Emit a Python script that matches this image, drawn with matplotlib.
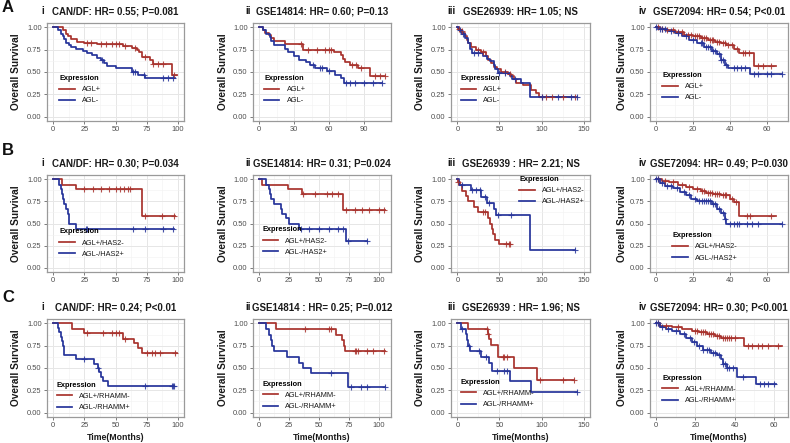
import numpy as np
import matplotlib
matplotlib.use("Agg")
import matplotlib.pyplot as plt
from matplotlib.lines import Line2D

plt.rcParams.update({
    "font.family": ["Liberation Sans", "DejaVu Sans"],
    "font.size": 7,
})

RED = "#A8322D"
BLUE = "#26349A"

# ---- row A: AGL+ / AGL- ----
a1_pos_t = [0, 8, 10, 12, 14, 19, 25, 35, 56, 63, 67, 69, 71, 78, 80, 95, 99]
a1_pos_s = [1.0, 0.97, 0.93, 0.90, 0.87, 0.84, 0.83, 0.81, 0.79, 0.77, 0.75, 0.72, 0.67, 0.64, 0.59, 0.47, 0.47]
a1_pos_c = [27, 30, 38, 42, 47, 50, 53, 58, 66, 74, 80, 84, 88, 97]
a1_neg_t = [0, 4, 6, 8, 9, 10, 13, 14, 18, 24, 27, 31, 35, 38, 41, 43, 50, 63, 68, 74, 98]
a1_neg_s = [1.0, 0.97, 0.93, 0.90, 0.87, 0.83, 0.80, 0.78, 0.76, 0.74, 0.71, 0.69, 0.66, 0.63, 0.60, 0.57, 0.54, 0.50, 0.47, 0.43, 0.43]
a1_neg_c = [39, 64, 66, 73, 88, 92, 96]

a2_pos_t = [0, 3, 5, 8, 10, 13, 22, 38, 64, 70, 72, 74, 78, 85, 95, 108]
a2_pos_s = [1.0, 0.97, 0.94, 0.91, 0.88, 0.85, 0.81, 0.75, 0.72, 0.69, 0.65, 0.61, 0.58, 0.55, 0.46, 0.46]
a2_pos_c = [36, 42, 50, 57, 60, 62, 80, 83, 88, 100, 104, 108]
a2_neg_t = [0, 3, 6, 9, 10, 13, 22, 25, 30, 34, 40, 44, 48, 58, 65, 70, 73, 106]
a2_neg_s = [1.0, 0.97, 0.93, 0.89, 0.85, 0.80, 0.76, 0.72, 0.68, 0.64, 0.61, 0.58, 0.54, 0.51, 0.47, 0.43, 0.38, 0.38]
a2_neg_c = [46, 52, 54, 60, 75, 78, 82, 90, 98, 106]

a3_pos_t = [0, 1, 3, 6, 9, 11, 13, 16, 22, 28, 34, 37, 40, 44, 47, 52, 60, 64, 67, 70, 78, 88, 93, 97, 140]
a3_pos_s = [1.0, 0.98, 0.96, 0.94, 0.90, 0.86, 0.82, 0.78, 0.75, 0.72, 0.68, 0.64, 0.60, 0.56, 0.53, 0.50, 0.48, 0.45, 0.42, 0.38, 0.35, 0.30, 0.26, 0.22, 0.22]
a3_pos_c = [2, 5, 25, 30, 57, 62, 100, 105, 112, 125, 140]
a3_neg_t = [0, 2, 5, 9, 13, 15, 17, 31, 35, 39, 43, 45, 48, 62, 65, 75, 86, 142]
a3_neg_s = [1.0, 0.97, 0.93, 0.88, 0.82, 0.76, 0.71, 0.68, 0.65, 0.62, 0.58, 0.53, 0.49, 0.46, 0.42, 0.38, 0.22, 0.22]
a3_neg_c = [3, 7, 20, 24, 50, 57, 68, 100, 120, 135, 142]

a4_pos_t = [0, 2, 5, 10, 15, 20, 24, 28, 32, 35, 38, 42, 45, 53, 65]
a4_pos_s = [1.0, 0.98, 0.97, 0.95, 0.92, 0.90, 0.88, 0.86, 0.84, 0.82, 0.80, 0.76, 0.71, 0.57, 0.57]
a4_pos_c = [1, 3, 6, 9, 12, 14, 17, 19, 21, 22, 23, 25, 26, 27, 29, 30, 31, 33, 34, 36, 37, 39, 41, 44, 47, 48, 50, 55, 58, 62]
a4_neg_t = [0, 1, 6, 10, 14, 18, 22, 26, 30, 33, 35, 37, 39, 51, 68]
a4_neg_s = [1.0, 0.98, 0.96, 0.94, 0.90, 0.86, 0.82, 0.78, 0.74, 0.70, 0.64, 0.58, 0.55, 0.48, 0.48]
a4_neg_c = [0, 2, 3, 5, 8, 12, 16, 20, 24, 25, 27, 28, 29, 31, 32, 34, 35, 36, 38, 42, 44, 46, 48, 53, 55, 60, 62, 68]

# ---- row B: AGL+/HAS2- vs AGL-/HAS2+ ----
b1_pos_t = [0, 7, 18, 71, 98]
b1_pos_s = [1.0, 0.94, 0.89, 0.59, 0.59]
b1_pos_c = [25, 32, 38, 45, 50, 54, 57, 60, 62, 74, 87, 97]
b1_neg_t = [0, 5, 6, 7, 8, 9, 10, 12, 13, 18, 97]
b1_neg_s = [1.0, 0.94, 0.89, 0.83, 0.78, 0.72, 0.67, 0.61, 0.50, 0.44, 0.44]
b1_neg_c = [26, 27, 64, 74, 88, 96]

b2_pos_t = [0, 2, 24, 36, 70, 105]
b2_pos_s = [1.0, 0.94, 0.89, 0.83, 0.65, 0.65]
b2_pos_c = [37, 47, 57, 61, 66, 73, 80, 86, 92, 100, 104]
b2_neg_t = [0, 6, 8, 9, 10, 12, 18, 19, 22, 25, 33, 73, 90]
b2_neg_s = [1.0, 0.94, 0.89, 0.83, 0.78, 0.72, 0.67, 0.61, 0.56, 0.50, 0.44, 0.30, 0.30]
b2_neg_c = [35, 42, 50, 58, 66, 70, 74, 90]

b3_pos_t = [0, 1, 3, 6, 10, 13, 20, 24, 37, 39, 41, 42, 45, 49, 63]
b3_pos_s = [1.0, 0.97, 0.94, 0.87, 0.81, 0.75, 0.69, 0.63, 0.56, 0.50, 0.44, 0.38, 0.31, 0.27, 0.27]
b3_pos_c = [1, 30, 33, 58, 61, 63]
b3_neg_t = [0, 2, 16, 28, 35, 44, 46, 86, 140]
b3_neg_s = [1.0, 0.94, 0.88, 0.80, 0.73, 0.66, 0.60, 0.20, 0.20]
b3_neg_c = [5, 17, 22, 27, 33, 38, 48, 64, 140]

b4_pos_t = [0, 3, 7, 12, 16, 20, 24, 27, 31, 35, 40, 42, 45, 65]
b4_pos_s = [1.0, 0.98, 0.97, 0.94, 0.91, 0.89, 0.87, 0.85, 0.83, 0.82, 0.78, 0.74, 0.59, 0.59]
b4_pos_c = [1, 5, 9, 14, 18, 22, 25, 26, 28, 29, 30, 32, 33, 34, 36, 37, 38, 41, 43, 49, 51, 62]
b4_neg_t = [0, 2, 5, 9, 13, 16, 19, 22, 30, 33, 35, 37, 38, 68]
b4_neg_s = [1.0, 0.96, 0.93, 0.90, 0.86, 0.82, 0.78, 0.75, 0.72, 0.67, 0.62, 0.55, 0.49, 0.49]
b4_neg_c = [0, 1, 3, 6, 8, 11, 15, 18, 21, 23, 25, 26, 27, 28, 29, 31, 32, 34, 36, 37, 40, 42, 44, 45, 49, 52, 55, 68]

# ---- row C: AGL+/RHAMM- vs AGL-/RHAMM+ ----
c1_pos_t = [0, 15, 25, 56, 65, 68, 71, 99]
c1_pos_s = [1.0, 0.94, 0.89, 0.83, 0.78, 0.72, 0.67, 0.67]
c1_pos_c = [27, 40, 47, 50, 53, 58, 75, 79, 82, 86, 98]
c1_neg_t = [0, 4, 5, 6, 7, 8, 9, 18, 33, 36, 37, 38, 40, 44, 97]
c1_neg_s = [1.0, 0.95, 0.90, 0.85, 0.80, 0.75, 0.65, 0.60, 0.55, 0.50, 0.45, 0.40, 0.35, 0.30, 0.30]
c1_neg_c = [25, 36, 74, 95, 96, 97]

c2_pos_t = [0, 14, 64, 69, 71, 72, 105]
c2_pos_s = [1.0, 0.94, 0.87, 0.81, 0.75, 0.69, 0.69]
c2_pos_c = [38, 58, 60, 80, 81, 83, 90, 95, 104]
c2_neg_t = [0, 6, 8, 10, 11, 12, 23, 33, 37, 43, 74, 105]
c2_neg_s = [1.0, 0.94, 0.87, 0.81, 0.75, 0.69, 0.62, 0.56, 0.50, 0.44, 0.29, 0.29]
c2_neg_c = [60, 77, 85, 90, 105]

c3_pos_t = [0, 13, 36, 38, 40, 48, 67, 95, 139]
c3_pos_s = [1.0, 0.94, 0.88, 0.82, 0.76, 0.62, 0.50, 0.37, 0.37]
c3_pos_c = [35, 37, 54, 56, 59, 98, 125, 138]
c3_neg_t = [0, 4, 10, 12, 13, 15, 28, 38, 41, 62, 87, 142]
c3_neg_s = [1.0, 0.94, 0.88, 0.81, 0.75, 0.69, 0.62, 0.56, 0.47, 0.35, 0.23, 0.23]
c3_neg_c = [6, 14, 26, 34, 47, 55, 59, 142]

c4_pos_t = [0, 2, 8, 13, 18, 22, 26, 30, 33, 45, 64]
c4_pos_s = [1.0, 0.97, 0.96, 0.94, 0.92, 0.90, 0.88, 0.86, 0.84, 0.75, 0.75]
c4_pos_c = [1, 5, 11, 20, 21, 23, 24, 25, 27, 28, 29, 31, 32, 34, 35, 36, 37, 38, 40, 47, 49, 52, 54, 57, 62]
c4_neg_t = [0, 2, 5, 8, 12, 15, 18, 21, 24, 28, 31, 33, 34, 36, 41, 51, 61]
c4_neg_s = [1.0, 0.96, 0.94, 0.92, 0.88, 0.84, 0.79, 0.75, 0.70, 0.67, 0.65, 0.60, 0.55, 0.50, 0.40, 0.32, 0.32]
c4_neg_c = [0, 1, 3, 6, 10, 14, 17, 19, 22, 24, 26, 27, 29, 30, 32, 34, 35, 36, 37, 39, 44, 53, 55, 57, 60]

titles = [
    ["CAN/DF: HR= 0.55; P=0.081", "GSE14814: HR= 0.60; P=0.13", "GSE26939: HR= 1.05; NS", "GSE72094: HR= 0.54; P<0.01"],
    ["CAN/DF: HR= 0.30; P=0.034", "GSE14814: HR= 0.31; P=0.024", "GSE26939 : HR= 2.21; NS", "GSE72094: HR= 0.49; P=0.030"],
    ["CAN/DF: HR= 0.24; P<0.01", "GSE14814 : HR= 0.25; P=0.012", "GSE26939 : HR= 1.96; NS", "GSE72094: HR= 0.30; P<0.001"],
]
numerals = ["i", "ii", "iii", "iv"]
row_letters = ["A", "B", "C"]
group_labels = [["AGL+", "AGL-"], ["AGL+/HAS2-", "AGL-/HAS2+"], ["AGL+/RHAMM-", "AGL-/RHAMM+"]]
x_ticks = [
    [[0, 25, 50, 75, 100], [0, 30, 60, 90], [0, 50, 100, 150], [0, 20, 40, 60]],
    [[0, 25, 50, 75, 100], [0, 25, 50, 75, 100], [0, 50, 100, 150], [0, 20, 40, 60]],
    [[0, 25, 50, 75, 100], [0, 25, 50, 75, 100], [0, 50, 100, 150], [0, 20, 40, 60]],
]
x_max = [[100, 108, 150, 68], [100, 105, 150, 68], [100, 105, 150, 64]]

curves = [
    [(a1_pos_t, a1_pos_s, a1_pos_c, a1_neg_t, a1_neg_s, a1_neg_c),
     (a2_pos_t, a2_pos_s, a2_pos_c, a2_neg_t, a2_neg_s, a2_neg_c),
     (a3_pos_t, a3_pos_s, a3_pos_c, a3_neg_t, a3_neg_s, a3_neg_c),
     (a4_pos_t, a4_pos_s, a4_pos_c, a4_neg_t, a4_neg_s, a4_neg_c)],
    [(b1_pos_t, b1_pos_s, b1_pos_c, b1_neg_t, b1_neg_s, b1_neg_c),
     (b2_pos_t, b2_pos_s, b2_pos_c, b2_neg_t, b2_neg_s, b2_neg_c),
     (b3_pos_t, b3_pos_s, b3_pos_c, b3_neg_t, b3_neg_s, b3_neg_c),
     (b4_pos_t, b4_pos_s, b4_pos_c, b4_neg_t, b4_neg_s, b4_neg_c)],
    [(c1_pos_t, c1_pos_s, c1_pos_c, c1_neg_t, c1_neg_s, c1_neg_c),
     (c2_pos_t, c2_pos_s, c2_pos_c, c2_neg_t, c2_neg_s, c2_neg_c),
     (c3_pos_t, c3_pos_s, c3_pos_c, c3_neg_t, c3_neg_s, c3_neg_c),
     (c4_pos_t, c4_pos_s, c4_pos_c, c4_neg_t, c4_neg_s, c4_neg_c)],
]

# legend anchor (axes fraction, upper-left of the legend block)
legend_anchor = [
    [(0.09, 0.47), (0.08, 0.47), (0.07, 0.47), (0.09, 0.50)],
    [(0.09, 0.45), (0.07, 0.47), (0.49, 0.99), (0.16, 0.41)],
    [(0.07, 0.36), (0.07, 0.37), (0.07, 0.39), (0.09, 0.43)],
]

W, H = 790, 443
col_left = [47, 253, 451, 650]
col_right = [184, 391, 590, 788]
row_top = [23, 175, 319]
row_bottom = [121, 272, 417]
ylabel_x = [16, 223, 420, 622]
numeral_x = [41, 245, 447, 638]

fig = plt.figure(figsize=(W / 100, H / 100), dpi=100)


def draw_km(ax, t, s, cens, color):
    t = np.asarray(t, float)
    s = np.asarray(s, float)
    ax.step(t, s, where="post", color=color, lw=1.25, zorder=3)
    c = np.asarray(cens, float)
    idx = np.clip(np.searchsorted(t, c, side="right") - 1, 0, len(s) - 1)
    ax.plot(c, s[idx], ls="none", marker="+", ms=4.5, mew=0.8,
            color=color, alpha=0.85, zorder=4)


for r in range(3):
    for k in range(4):
        l, rt = col_left[k], col_right[k]
        t, b = row_top[r], row_bottom[r]
        ax = fig.add_axes([l / W, 1 - b / H, (rt - l) / W, (b - t) / H])
        pt, ps, pc, nt, ns, nc = curves[r][k]
        draw_km(ax, pt, ps, pc, RED)
        draw_km(ax, nt, ns, nc, BLUE)

        xt = x_ticks[r][k]
        xm = x_max[r][k]
        ax.set_xlim(-0.05 * xm, 1.05 * xm)
        ax.set_ylim(-0.05, 1.05)
        ax.set_xticks(xt)
        ax.set_xticks([(a + b2) / 2 for a, b2 in zip(xt[:-1], xt[1:])], minor=True)
        yt = [0, 0.25, 0.5, 0.75, 1.0]
        ax.set_yticks(yt)
        ax.set_yticklabels(["0.00", "0.25", "0.50", "0.75", "1.00"])
        ax.set_yticks([0.125, 0.375, 0.625, 0.875], minor=True)
        ax.grid(which="major", color="#E6E6E6", lw=0.7, zorder=0)
        ax.grid(which="minor", color="#F2F2F2", lw=0.4, zorder=0)
        ax.set_axisbelow(True)
        ax.tick_params(which="major", length=2, width=0.6, color="#666666",
                       labelsize=5.4, labelcolor="#4D4D4D", pad=1.8)
        ax.tick_params(which="minor", length=0)
        for sp in ax.spines.values():
            sp.set_color("#9A9A9A")
            sp.set_linewidth(0.9)

        handles = [Line2D([], [], color=RED, lw=1.25), Line2D([], [], color=BLUE, lw=1.25)]
        leg = ax.legend(handles, group_labels[r], title="Expression",
                        loc="upper left", bbox_to_anchor=legend_anchor[r][k],
                        frameon=False, fontsize=5.3, handlelength=2.1,
                        handletextpad=0.95, labelspacing=0.55, borderpad=0,
                        borderaxespad=0,
                        title_fontproperties={"weight": "bold", "size": 5.3})
        leg._legend_box.align = "left"
        for txt in leg.get_texts():
            txt.set_color("#1A1A1A")

        # title and panel numeral
        cx = (l + rt) / 2 / W
        fig.text(cx, 1 - (t - 11) / H, titles[r][k], ha="center", va="center",
                 fontsize=7, fontweight="bold", color="#1A1A1A")
        fig.text(numeral_x[k] / W, 1 - (t - 12) / H, numerals[k], ha="left",
                 va="center", fontsize=7, fontweight="bold", color="#1A1A1A")
        fig.text(ylabel_x[k] / W, 1 - ((t + b) / 2) / H, "Overall Survival",
                 rotation=90, ha="center", va="center", fontsize=7.3,
                 fontweight="bold", color="#1A1A1A")
        if r == 2:
            fig.text(cx, 1 - 437 / H, "Time(Months)", ha="center", va="center",
                     fontsize=6.3, fontweight="bold", color="#1A1A1A")

for r, y in enumerate([8, 150, 297]):
    fig.text(2 / W, 1 - y / H, row_letters[r], ha="left", va="center",
             fontsize=12, fontweight="bold", color="#111111")

fig.savefig("out.png", dpi=100)
